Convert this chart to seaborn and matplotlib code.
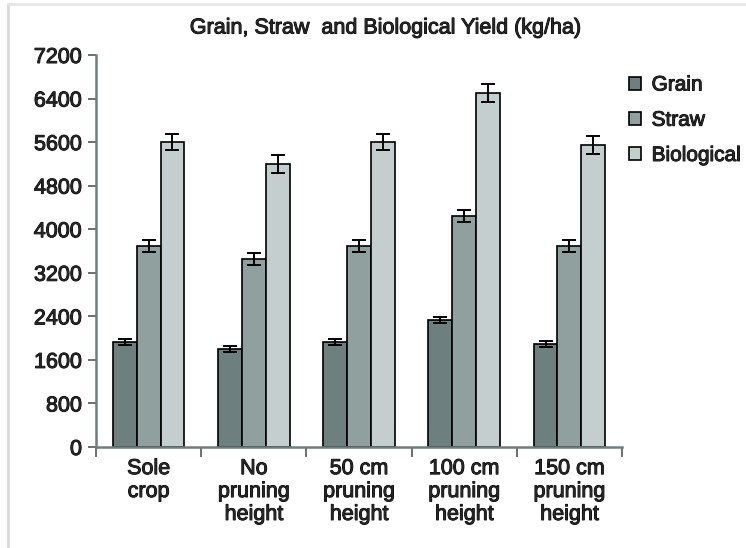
import matplotlib
matplotlib.use("Agg")
import matplotlib.pyplot as plt
import matplotlib.patheffects as pe
from matplotlib.lines import Line2D
import seaborn as sns
import pandas as pd
import numpy as np

# values
treatments = ["Sole\ncrop", "No\npruning\nheight", "50 cm\npruning\nheight",
              "100 cm\npruning\nheight", "150 cm\npruning\nheight"]
grain = [1920, 1800, 1920, 2340, 1900]
straw = [3700, 3450, 3700, 4250, 3700]
biological = [5600, 5200, 5600, 6500, 5550]
grain_err = [55, 55, 55, 55, 55]
straw_err = [110, 110, 110, 110, 110]
bio_err = [150, 160, 150, 160, 160]

series = ["Grain", "Straw", "Biological"]
colors = ["#6e7f80", "#8fa09f", "#c4cecf"]

df = pd.DataFrame({
    "treatment": treatments * 3,
    "yield": grain + straw + biological,
    "err": grain_err + straw_err + bio_err,
    "type": ["Grain"] * 5 + ["Straw"] * 5 + ["Biological"] * 5,
})

sns.set_style("white")
plt.rcParams["font.family"] = ["Liberation Sans", "DejaVu Sans"]
heavy = [pe.withStroke(linewidth=0.7, foreground="black")]
fs = 15.5

fig = plt.figure(figsize=(7.46, 5.48), dpi=100)
ax = fig.add_axes([96 / 746, 1 - 447 / 548, 526 / 746, 392 / 548])

sns.barplot(data=df, x="treatment", y="yield", hue="type", hue_order=series,
            palette=colors, width=0.68, gap=0, edgecolor="black", linewidth=1.2,
            errorbar=None, ax=ax, saturation=1)

# error bars at the centre of each bar
for i, name in enumerate(series):
    cont = ax.containers[i]
    sub = df[df["type"] == name]
    xs = [p.get_x() + p.get_width() / 2 for p in cont.patches]
    ax.errorbar(xs, sub["yield"].values, yerr=sub["err"].values, fmt="none",
                ecolor="black", elinewidth=1.4, capsize=5, capthick=1.4, zorder=5)

ax.set_ylim(0, 7200)
ax.set_xlim(-0.5, 4.5)
ax.set_yticks(np.arange(0, 7201, 800))
ax.set_xlabel("")
ax.set_ylabel("")
ax.tick_params(axis="y", labelsize=fs, length=6, width=1.2, color="#555555",
               left=True, pad=4)
ax.tick_params(axis="x", which="major", length=0, labelsize=fs, pad=8)
ax.set_xticks(np.arange(-0.5, 4.6, 1), minor=True)
ax.tick_params(axis="x", which="minor", length=7, width=1.2, color="#555555",
               bottom=True)
for lbl in ax.get_xticklabels():
    lbl.set_linespacing(1.12)
for lbl in ax.get_xticklabels() + ax.get_yticklabels():
    lbl.set_path_effects(heavy)

for s in ["top", "right"]:
    ax.spines[s].set_visible(False)
for s in ["left", "bottom"]:
    ax.spines[s].set_color("#6f7d7d")
    ax.spines[s].set_linewidth(1.8)

leg = ax.legend(loc="upper left", bbox_to_anchor=(0.985, 0.985), frameon=False,
                fontsize=15, handlelength=0.6, handleheight=0.6,
                labelspacing=0.78, handletextpad=0.5, borderaxespad=0.3)
for t in leg.get_texts():
    t.set_path_effects(heavy)

fig.text(385 / 746, 1 - 28 / 548, "Grain, Straw  and Biological Yield (kg/ha)",
         ha="center", va="center", fontsize=15.5, path_effects=heavy)

# light frame around the picture
fig.add_artist(Line2D([7.5 / 746, 7.5 / 746], [0, 1 - 4 / 548],
                      transform=fig.transFigure, color="#d9d9d9", lw=2))
fig.add_artist(Line2D([7.5 / 746, 1], [1 - 4 / 548, 1 - 4 / 548],
                      transform=fig.transFigure, color="#e6e6e6", lw=2))

fig.savefig("out.png", dpi=100)
